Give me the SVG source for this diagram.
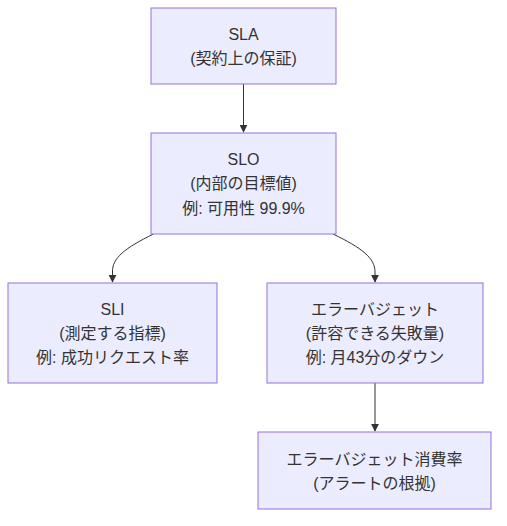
<svg xmlns="http://www.w3.org/2000/svg" width="507" height="526" viewBox="0 0 507 526">
<defs>
<style>
.box{fill:#ECECFF;stroke:#9370DB;stroke-width:1}
.t{font-family:"Liberation Sans","Noto Sans CJK JP",sans-serif;font-size:16px;fill:#333333;text-anchor:middle;dominant-baseline:central}
.edge{fill:none;stroke:#333333;stroke-width:1}
</style>
<marker id="arr" viewBox="0 0 10 10" refX="9" refY="5" markerWidth="8" markerHeight="8" markerUnits="userSpaceOnUse" orient="auto">
<path d="M0,0 L10,5 L0,10 z" fill="#333333"/>
</marker>
</defs>
<rect width="507" height="526" fill="#ffffff"/>
<g id="connectors">
<path class="edge" d="M243.5,84 L243.5,132" marker-end="url(#arr)"/>
<path class="edge" d="M153.5,234 C125,248 112,258 112.5,272 L112.5,282" marker-end="url(#arr)"/>
<path class="edge" d="M333,234 C362,248 375,258 375,272 L375,282" marker-end="url(#arr)"/>
<path class="edge" d="M375,383 L375,431" marker-end="url(#arr)"/>
</g>
<g id="sla">
<rect class="box" x="151" y="8" width="185" height="76"/>
<text class="t" x="243.5" y="34">SLA</text>
<text class="t" x="243.5" y="58">(契約上の保証)</text>
</g>
<g id="slo">
<rect class="box" x="151" y="133" width="185" height="101"/>
<text class="t" x="243.5" y="159">SLO</text>
<text class="t" x="243.5" y="183">(内部の目標値)</text>
<text class="t" x="243.5" y="208">例: 可用性 99.9%</text>
</g>
<g id="sli">
<rect class="box" x="8" y="283" width="209" height="100"/>
<text class="t" x="112.5" y="309">SLI</text>
<text class="t" x="112.5" y="333">(測定する指標)</text>
<text class="t" x="112.5" y="357">例: 成功リクエスト率</text>
</g>
<g id="errorbudget">
<rect class="box" x="267" y="283" width="216" height="100"/>
<text class="t" x="375" y="309">エラーバジェット</text>
<text class="t" x="375" y="333">(許容できる失敗量)</text>
<text class="t" x="375" y="357">例: 月43分のダウン</text>
</g>
<g id="burnrate">
<rect class="box" x="258" y="432" width="233" height="77"/>
<text class="t" x="374.5" y="459">エラーバジェット消費率</text>
<text class="t" x="374.5" y="483">(アラートの根拠)</text>
</g>
</svg>
